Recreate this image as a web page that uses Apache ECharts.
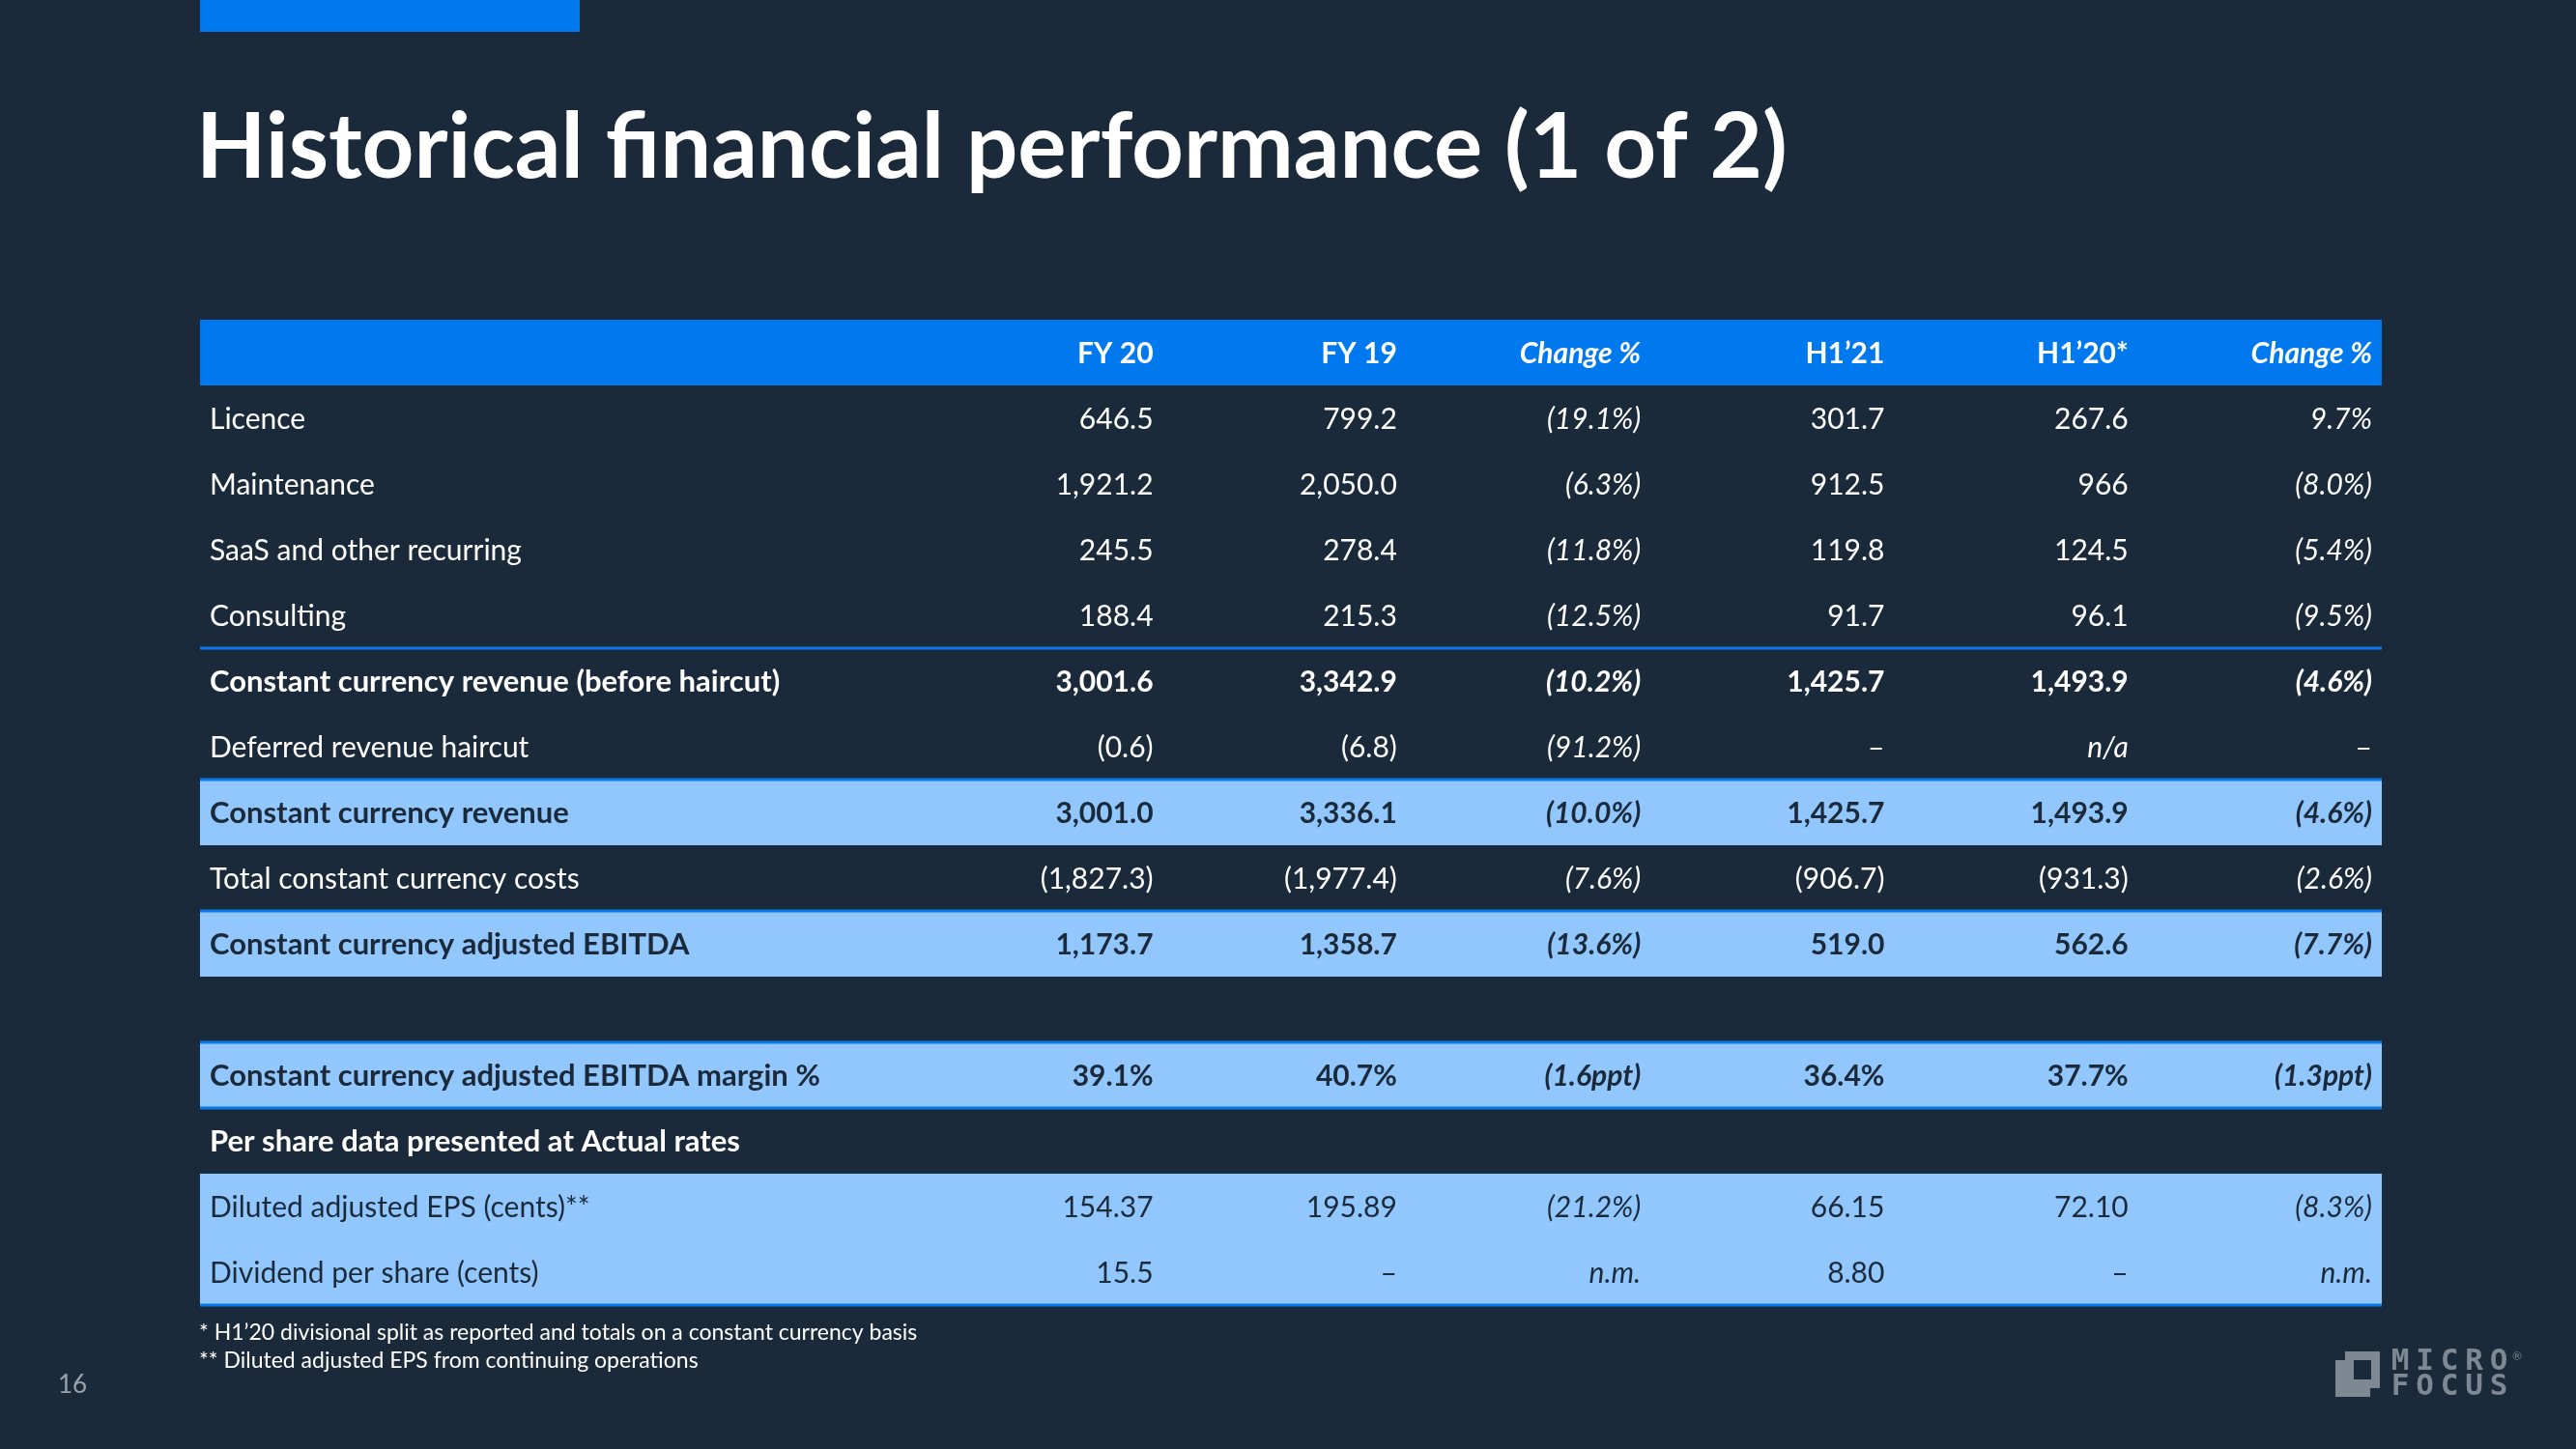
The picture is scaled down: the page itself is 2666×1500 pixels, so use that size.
<!DOCTYPE html>
<html><head><meta charset="utf-8">
<script src="https://cdn.jsdelivr.net/npm/echarts@6/dist/echarts.min.js"></script>
<style>html,body{margin:0;padding:0;background:#1B2A3A;}#c{width:2666px;height:1500px;}</style>
</head><body><div id="c"></div>
<script>
// ---------- DATA ----------
const titleText = 'Historical financial performance (1 of 2)';
const columnHeaders = ['FY 20', 'FY 19', 'Change %', 'H1\u201921', 'H1\u201920*', 'Change %'];
const rowLabels = [
  'Licence', 'Maintenance', 'SaaS and other recurring', 'Consulting',
  'Constant currency revenue (before haircut)', 'Deferred revenue haircut',
  'Constant currency revenue', 'Total constant currency costs',
  'Constant currency adjusted EBITDA', '',
  'Constant currency adjusted EBITDA margin %', 'Per share data presented at Actual rates',
  'Diluted adjusted EPS (cents)**', 'Dividend per share (cents)'
];
const fy20 = ['646.5', '1,921.2', '245.5', '188.4', '3,001.6', '(0.6)', '3,001.0', '(1,827.3)', '1,173.7', '', '39.1%', '', '154.37', '15.5'];
const fy19 = ['799.2', '2,050.0', '278.4', '215.3', '3,342.9', '(6.8)', '3,336.1', '(1,977.4)', '1,358.7', '', '40.7%', '', '195.89', '\u2013'];
const changeFY = ['(19.1%)', '(6.3%)', '(11.8%)', '(12.5%)', '(10.2%)', '(91.2%)', '(10.0%)', '(7.6%)', '(13.6%)', '', '(1.6ppt)', '', '(21.2%)', 'n.m.'];
const h121 = ['301.7', '912.5', '119.8', '91.7', '1,425.7', '\u2013', '1,425.7', '(906.7)', '519.0', '', '36.4%', '', '66.15', '8.80'];
const h120 = ['267.6', '966', '124.5', '96.1', '1,493.9', 'n/a', '1,493.9', '(931.3)', '562.6', '', '37.7%', '', '72.10', '\u2013'];
const changeH1 = ['9.7%', '(8.0%)', '(5.4%)', '(9.5%)', '(4.6%)', '\u2013', '(4.6%)', '(2.6%)', '(7.7%)', '', '(1.3ppt)', '', '(8.3%)', 'n.m.'];
const footnotes = ['* H1\u201920 divisional split as reported and totals on a constant currency basis', '** Diluted adjusted EPS from continuing operations'];
const pageNumber = '16';

// ---------- STYLE ----------
const BG = '#1B2A3A', BLUE = '#0079EE', LIGHT = '#91C7FD', DARKTEXT = '#1B2A3A', LINE = '#0A7AEB', LOGO = '#7D8893';
const FONT = 'Lato, "Open Sans", sans-serif';
const FS = 30, FS_BOLD_LABEL = 31;
// row style per table row (header excluded), 'd' dark, 'l' light
const rowFill = ['d','d','d','d','d','d','l','d','l','d','l','d','l','l'];
const rowBold = [0,0,0,0,1,0,1,0,1,0,1,1,0,0];
const lineAt = [5, 7, 9, 11, 12, 15];     // row boundaries with blue rule
const italicCols = [2, 5];
const LABEL_SPAN = 2.95;                 // label column width in value-column units
const PAD = 10;

const valueCols = [fy20, fy19, changeFY, h121, h120, changeH1];
const nRows = rowLabels.length + 1;

// build cells
const cells = [];
columnHeaders.forEach((h, k) => cells.push({x: LABEL_SPAN + k + 1, row: 0, text: h, align: 'right', bold: true, italic: italicCols.includes(k), color: '#FFFFFF', fs: FS}));
rowLabels.forEach((lab, i) => {
  const r = i + 1;
  const color = rowFill[i] === 'l' ? DARKTEXT : '#FFFFFF';
  if (lab) cells.push({x: 0, row: r, text: lab, align: 'left', bold: !!rowBold[i], italic: false, color, fs: rowBold[i] ? FS_BOLD_LABEL : FS});
  valueCols.forEach((col, k) => {
    const t = col[i];
    if (!t) return;
    cells.push({x: LABEL_SPAN + k + 1, row: r, text: t, align: 'right', bold: !!rowBold[i],
      italic: (italicCols.includes(k) && t !== '\u2013') || t === 'n/a', color, fs: FS});
  });
});

const rowsData = [];
for (let r = 0; r < nRows; r++) rowsData.push([0, r]);

const chart = echarts.init(document.getElementById('c'), null, {renderer: 'canvas'});
const option = {
  backgroundColor: BG,
  animation: false,
  grid: {left: 207, width: 2258, top: 331, height: 68 * nRows},
  xAxis: {type: 'value', min: 0, max: LABEL_SPAN + 6, show: false},
  yAxis: {type: 'value', min: 0, max: nRows, inverse: true, show: false},
  series: [
    { // row backgrounds
      type: 'custom', silent: true, data: rowsData, encode: {x: 0, y: 1},
      renderItem(params, api) {
        const r = params.dataIndex;
        const fill = r === 0 ? BLUE : (rowFill[r - 1] === 'l' ? LIGHT : BG);
        const a = api.coord([0, r]), b = api.coord([LABEL_SPAN + 6, r + 1]);
        return {type: 'rect', shape: {x: a[0], y: a[1], width: b[0] - a[0], height: b[1] - a[1]}, style: {fill}};
      }
    },
    { // rules
      type: 'custom', silent: true, data: lineAt.map(v => [0, v]), encode: {x: 0, y: 1}, z: 3,
      renderItem(params, api) {
        const y = api.value(1);
        const a = api.coord([0, y]), b = api.coord([LABEL_SPAN + 6, y]);
        return {type: 'line', shape: {x1: a[0], y1: a[1], x2: b[0], y2: b[1]}, style: {stroke: LINE, lineWidth: 3}};
      }
    },
    { // text cells
      type: 'custom', silent: true, data: cells.map(c => [c.x, c.row]), encode: {x: 0, y: 1}, z: 4,
      renderItem(params, api) {
        const c = cells[params.dataIndex];
        const p = api.coord([c.x, c.row + 0.5]);
        return {type: 'text', style: {
          text: c.text, x: p[0] + (c.align === 'left' ? PAD : -PAD), y: p[1] + 1,
          align: c.align, verticalAlign: 'middle', fill: c.color,
          fontSize: c.fs, fontFamily: FONT, fontWeight: c.bold ? 'bold' : 'normal', fontStyle: c.italic ? 'italic' : 'normal'
        }};
      }
    }
  ],
  graphic: [
    {type: 'rect', shape: {x: 207, y: 0, width: 393, height: 33}, style: {fill: BLUE}, silent: true},
    {type: 'text', x: 203, y: 154, style: {text: titleText, fill: '#FFFFFF', fontSize: 94, fontWeight: 'bold', fontFamily: FONT, verticalAlign: 'middle'}, silent: true},
    {type: 'text', x: 206, y: 1380, style: {text: footnotes[0], fill: '#FFFFFF', fontSize: 23, fontFamily: FONT, verticalAlign: 'middle'}, silent: true},
    {type: 'text', x: 206, y: 1409, style: {text: footnotes[1], fill: '#FFFFFF', fontSize: 23, fontFamily: FONT, verticalAlign: 'middle'}, silent: true},
    {type: 'text', x: 60, y: 1434, style: {text: pageNumber, fill: '#9AA3AD', fontSize: 26, fontFamily: FONT, verticalAlign: 'middle'}, silent: true},
    // logo
    {type: 'rect', shape: {x: 2417, y: 1408, width: 36, height: 38}, style: {fill: LOGO}, silent: true},
    {type: 'rect', shape: {x: 2427, y: 1399, width: 36, height: 38}, style: {fill: LOGO}, silent: true},
    {type: 'rect', shape: {x: 2436, y: 1408, width: 18, height: 20}, style: {fill: BG}, silent: true},
    ...'MICRO'.split('').map((ch, i) => ({type: 'text', x: 2484 + i * 25.5, y: 1410, style: {text: ch, fill: LOGO, fontSize: 31, fontWeight: 'bold', fontFamily: '"DejaVu Sans Mono", monospace', align: 'center', verticalAlign: 'middle'}, silent: true})),
    ...'FOCUS'.split('').map((ch, i) => ({type: 'text', x: 2484 + i * 25.5, y: 1436, style: {text: ch, fill: LOGO, fontSize: 31, fontWeight: 'bold', fontFamily: '"DejaVu Sans Mono", monospace', align: 'center', verticalAlign: 'middle'}, silent: true})),
    {type: 'text', x: 2605, y: 1404, style: {text: '\u00AE', fill: LOGO, fontSize: 12, fontFamily: FONT, align: 'center', verticalAlign: 'middle'}, silent: true}
  ]
};
chart.setOption(option);
</script>
</body></html>
